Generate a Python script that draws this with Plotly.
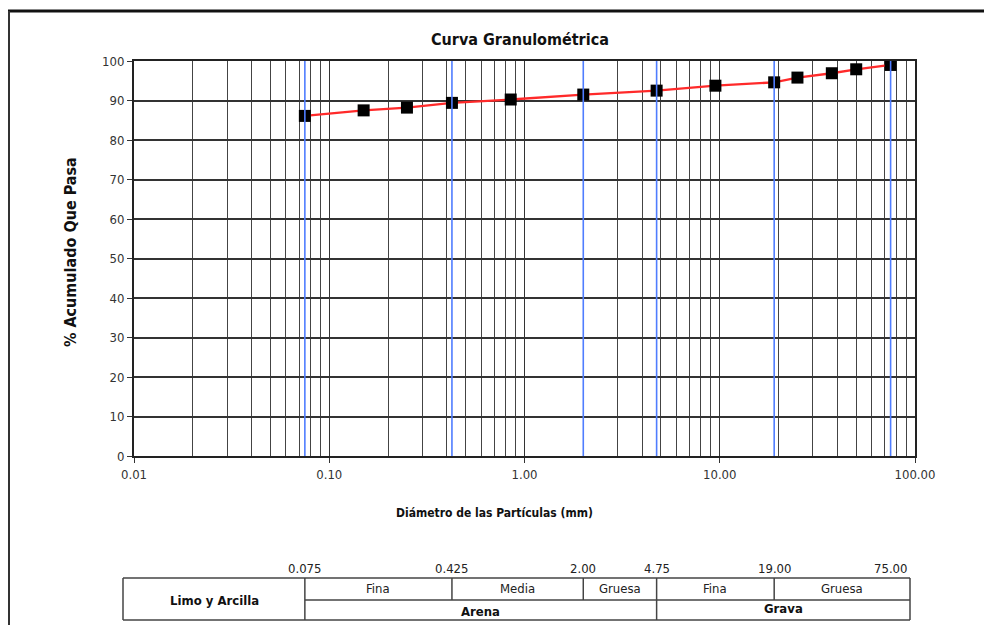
import numpy as np
import plotly.graph_objects as go

# ---- data ----
diametro_mm = [75.0, 50.0, 37.5, 25.0, 19.0, 9.5, 4.75, 2.0, 0.85, 0.425, 0.25, 0.15, 0.075]
pct_pasa = [99.0, 97.9, 96.9, 95.8, 94.6, 93.75, 92.5, 91.5, 90.25, 89.4, 88.2, 87.5, 86.1]

limites = [0.075, 0.425, 2.0, 4.75, 19.0, 75.0]
limites_txt = ["0.075", "0.425", "2.00", "4.75", "19.00", "75.00"]

x_ticks = [0.01, 0.1, 1, 10, 100]
x_ticktext = ["0.01", "0.10", "1.00", "10.00", "100.00"]
y_ticks = list(range(0, 101, 10))

subclases = ["Fina", "Media", "Gruesa", "Fina", "Gruesa"]
clases = ["Arena", "Grava"]

# ---- layout constants ----
W, H = 984, 625
ML, MR, MT, MB = 134, 69, 61, 169
PW, PH = W - ML - MR, H - MT - MB
FONT = "DejaVu Sans Condensed, Liberation Sans Narrow, Arial Narrow, Liberation Sans, Arial"


def px(xp):
    return (xp - ML) / PW


def py(yp):
    return (H - MB - yp) / PH


minor_vals = [m * 10.0 ** e for e in range(-2, 2) for m in range(2, 10)]

fig = go.Figure()
fig.add_trace(go.Scatter(
    x=diametro_mm, y=pct_pasa, mode="lines+markers",
    line=dict(color="#ff2a2a", width=2.3),
    marker=dict(symbol="square", size=12, color="black"),
    showlegend=False, hoverinfo="x+y"))

shapes = []
# blue boundary lines
for v in limites:
    shapes.append(dict(type="line", xref="x", yref="y", x0=v, x1=v, y0=0, y1=100,
                       line=dict(color="#4f7dff", width=1.6), layer="above"))

# table below the chart
t_top, t_mid, t_bot = py(578), py(600), py(620)
t_left, t_right = px(123), px(910)
ln = dict(color="#444", width=1.5)
shapes.append(dict(type="line", xref="paper", yref="paper", x0=t_left, x1=t_right, y0=t_top, y1=t_top, line=ln))
shapes.append(dict(type="line", xref="paper", yref="paper", x0=t_left, x1=t_right, y0=t_bot, y1=t_bot, line=ln))
shapes.append(dict(type="line", xref="paper", yref="paper", x0=t_left, x1=t_left, y0=t_top, y1=t_bot, line=ln))
shapes.append(dict(type="line", xref="paper", yref="paper", x0=t_right, x1=t_right, y0=t_top, y1=t_bot, line=ln))
shapes.append(dict(type="line", xref="paper", yref="paper", x0=px(305), x1=t_right, y0=t_mid, y1=t_mid, line=ln))
# vertical separators (full height at 0.075 and 4.75, upper row only for others)
for v in limites[:-1]:
    full = v in (0.075, 4.75)
    shapes.append(dict(type="line", xref="x", yref="paper", x0=v, x1=v,
                       y0=t_bot if full else t_mid, y1=t_top, line=ln))

# page frame
shapes.append(dict(type="line", xref="paper", yref="paper", x0=px(8), x1=px(990), y0=py(11), y1=py(11),
                   line=dict(color="#111", width=3)))
shapes.append(dict(type="line", xref="paper", yref="paper", x0=px(9), x1=px(9), y0=py(11), y1=py(640),
                   line=dict(color="#333", width=2)))


def ann(text, x, y, size=13, color="#222", xref="paper", **kw):
    d = dict(text=text, xref=xref, yref="paper", x=x, y=y, showarrow=False,
             xanchor="center", yanchor="middle",
             font=dict(family=FONT, size=size, color=color))
    d.update(kw)
    return d


annotations = []
annotations.append(ann("<b>Curva Granulométrica</b>", px(520), py(40), size=16, color="#111"))
annotations.append(ann("<b>Diámetro de las Partículas (mm)</b>", px(494), py(513), size=12, color="#111"))
annotations.append(ann("<b>% Acumulado Que Pasa</b>", px(70), py(252), size=16, color="#111", textangle=-90))
for v, t in zip(limites, limites_txt):
    annotations.append(ann(t, np.log10(v), py(568), xref="x"))

# table cell texts
lx = np.log10(limites)
right_edge_log = -2 + 4 * px(910)
edges = list(lx[:5]) + [right_edge_log]
for i, t in enumerate(subclases):
    annotations.append(ann(t, (edges[i] + edges[i + 1]) / 2, py(588), xref="x"))
annotations.append(ann("<b>" + clases[0] + "</b>", (lx[0] + lx[3]) / 2, py(611), xref="x", color="#111"))
annotations.append(ann("<b>" + clases[1] + "</b>", (lx[3] + right_edge_log) / 2, py(608), xref="x", color="#111"))
annotations.append(ann("<b>Limo y Arcilla</b>", px(214), py(600), color="#111"))

fig.update_layout(
    width=W, height=H,
    margin=dict(l=ML, r=MR, t=MT, b=MB),
    paper_bgcolor="white", plot_bgcolor="white",
    shapes=shapes, annotations=annotations,
    xaxis=dict(type="log", range=[-2, 2], tickmode="array", tickvals=x_ticks, ticktext=x_ticktext,
               showgrid=True, gridcolor="#333", gridwidth=1.3,
               ticks="outside", ticklen=5, tickcolor="#333",
               minor=dict(tickmode="array", tickvals=minor_vals, showgrid=True,
                          gridcolor="#444", gridwidth=1.4, ticks=""),
               showline=True, linecolor="#222", linewidth=2, mirror=True, zeroline=False,
               tickfont=dict(family=FONT, size=13, color="#333")),
    yaxis=dict(range=[0, 100], tickmode="array", tickvals=y_ticks,
               showgrid=True, gridcolor="#333", gridwidth=1.5,
               ticks="outside", ticklen=5, tickcolor="#333",
               showline=True, linecolor="#222", linewidth=2, mirror=True, zeroline=False,
               tickfont=dict(family=FONT, size=13, color="#333")),
)

fig.write_html("out.html", config={"displayModeBar": False},
               post_script="document.body.style.margin='0';")
